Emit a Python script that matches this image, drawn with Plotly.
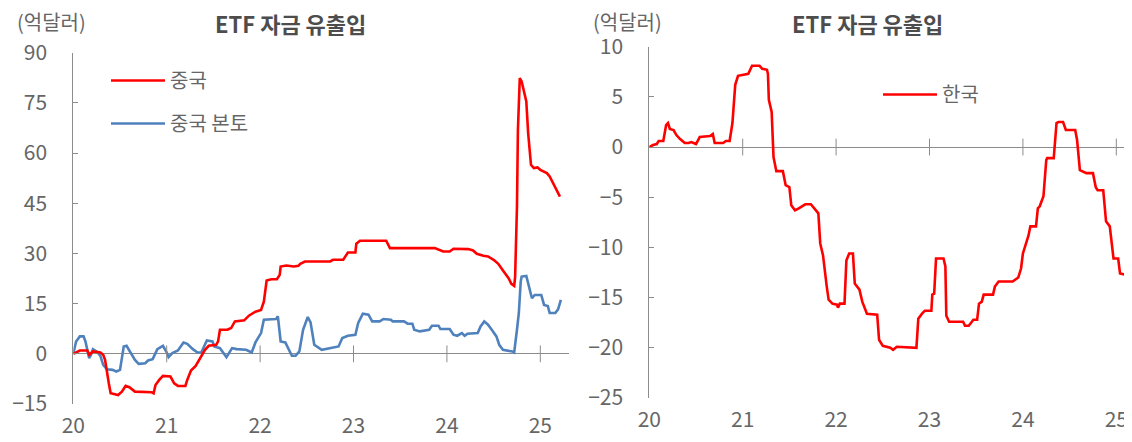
import plotly.graph_objects as go

# ---------------- data (decimal years, 억달러) ----------------
china_x = [2020.00, 2020.07, 2020.15, 2020.17, 2020.21, 2020.29, 2020.32, 2020.34, 2020.38, 2020.40,
           2020.48, 2020.52, 2020.56, 2020.60, 2020.66, 2020.84, 2020.86, 2020.88, 2020.92, 2020.96,
           2021.04, 2021.08, 2021.12, 2021.20, 2021.22, 2021.26, 2021.31, 2021.37, 2021.41, 2021.45,
           2021.53, 2021.55, 2021.57, 2021.65, 2021.69, 2021.73, 2021.83, 2021.88, 2021.95, 2022.01,
           2022.04, 2022.07, 2022.12, 2022.18, 2022.21, 2022.22, 2022.28, 2022.36, 2022.41, 2022.43,
           2022.48, 2022.75, 2022.78, 2022.89, 2022.93, 2022.94, 2023.02, 2023.03, 2023.07, 2023.35,
           2023.39, 2023.87, 2023.96, 2024.03, 2024.07, 2024.23, 2024.28, 2024.32, 2024.39, 2024.44,
           2024.50, 2024.55, 2024.60, 2024.66, 2024.69, 2024.72, 2024.73, 2024.75, 2024.76, 2024.78,
           2024.80, 2024.85, 2024.87, 2024.90, 2024.93, 2024.97, 2025.00, 2025.07, 2025.10, 2025.14,
           2025.17, 2025.21]
china_y = [0.0, 1.0, 1.0, -0.3, 0.7, 0.4, -0.3, -1.8, -8.8, -11.8,
           -12.3, -11.3, -9.6, -10.0, -11.3, -11.5, -11.8, -9.3, -7.8, -6.6,
           -6.8, -8.8, -9.6, -9.6, -7.8, -5.0, -3.6, -0.6, 1.2, 2.4,
           2.7, 3.7, 7.2, 7.2, 7.7, 9.7, 10.0, 11.4, 12.6, 13.1,
           15.6, 21.9, 22.3, 22.3, 23.6, 26.1, 26.4, 26.1, 26.3, 26.9,
           27.6, 27.6, 28.1, 28.1, 29.6, 30.3, 30.3, 32.9, 33.8, 33.8,
           31.6, 31.6, 30.6, 30.6, 31.4, 31.3, 30.9, 29.9, 29.3, 29.1,
           28.1, 26.9, 24.9, 22.6, 20.9, 20.3, 22.9, 44.0, 66.9, 82.4,
           81.4, 75.4, 65.9, 56.5, 55.5, 55.7, 55.0, 54.0, 53.0, 50.8,
           48.8, 47.0]

mainland_x = [2020.00, 2020.03, 2020.07, 2020.11, 2020.13, 2020.17, 2020.19, 2020.21, 2020.25, 2020.29,
              2020.32, 2020.36, 2020.42, 2020.46, 2020.50, 2020.54, 2020.57, 2020.61, 2020.66, 2020.70,
              2020.77, 2020.80, 2020.85, 2020.90, 2020.96, 2021.00, 2021.02, 2021.06, 2021.12, 2021.18,
              2021.22, 2021.28, 2021.33, 2021.37, 2021.43, 2021.49, 2021.51, 2021.57, 2021.64, 2021.70,
              2021.75, 2021.85, 2021.91, 2021.95, 2022.01, 2022.04, 2022.17, 2022.19, 2022.22, 2022.27,
              2022.30, 2022.34, 2022.38, 2022.42, 2022.46, 2022.51, 2022.54, 2022.58, 2022.66, 2022.74,
              2022.84, 2022.88, 2022.94, 2023.02, 2023.05, 2023.10, 2023.16, 2023.20, 2023.28, 2023.32,
              2023.40, 2023.42, 2023.54, 2023.58, 2023.63, 2023.65, 2023.71, 2023.81, 2023.84, 2023.91,
              2023.93, 2024.03, 2024.07, 2024.11, 2024.16, 2024.19, 2024.22, 2024.33, 2024.36, 2024.40,
              2024.44, 2024.48, 2024.53, 2024.56, 2024.60, 2024.70, 2024.72, 2024.75, 2024.77, 2024.79,
              2024.80, 2024.85, 2024.89, 2024.91, 2024.94, 2025.01, 2025.04, 2025.08, 2025.10, 2025.16,
              2025.19, 2025.22]
mainland_y = [0.0, 3.7, 5.2, 5.2, 3.7, -1.3, -0.3, 1.4, 0.7, -0.6,
              -3.3, -4.6, -4.8, -5.3, -4.8, 2.2, 2.4, 0.7, -1.8, -3.0,
              -2.8, -2.0, -1.6, 1.4, 2.4, 0.4, -1.0, 0.2, 1.0, 3.4,
              3.0, 1.4, 0.4, 0.4, 4.0, 3.7, 2.2, 1.7, -1.0, 1.7,
              1.4, 1.2, 0.4, 3.4, 6.2, 10.2, 10.4, 11.2, 3.7, 3.4,
              1.7, -0.6, -0.6, 0.7, 7.2, 11.0, 9.4, 2.7, 1.2, 1.7,
              2.2, 4.7, 5.4, 5.7, 9.2, 12.0, 11.7, 9.7, 9.7, 10.4,
              10.2, 9.7, 9.7, 9.0, 9.0, 7.2, 6.7, 7.2, 8.4, 8.4,
              7.4, 7.4, 5.7, 5.4, 6.2, 5.4, 6.0, 6.2, 8.2, 9.7,
              8.7, 7.2, 5.2, 2.7, 1.2, 0.7, 0.4, 7.2, 12.2, 21.6,
              23.1, 23.3, 18.6, 16.6, 17.6, 17.6, 14.6, 14.3, 12.2, 12.2,
              13.3, 16.1]

korea_x = [2020.00, 2020.04, 2020.08, 2020.10, 2020.15, 2020.18, 2020.20, 2020.22, 2020.26, 2020.29,
           2020.33, 2020.38, 2020.42, 2020.45, 2020.50, 2020.54, 2020.65, 2020.68, 2020.70, 2020.79,
           2020.82, 2020.86, 2020.89, 2020.92, 2020.95, 2021.02, 2021.06, 2021.10, 2021.18, 2021.21,
           2021.26, 2021.27, 2021.28, 2021.31, 2021.33, 2021.36, 2021.43, 2021.46, 2021.50, 2021.52,
           2021.56, 2021.60, 2021.63, 2021.67, 2021.73, 2021.77, 2021.81, 2021.83, 2021.86, 2021.90,
           2021.92, 2021.96, 2022.01, 2022.02, 2022.04, 2022.09, 2022.11, 2022.14, 2022.18, 2022.20,
           2022.25, 2022.28, 2022.33, 2022.44, 2022.46, 2022.50, 2022.58, 2022.61, 2022.65, 2022.86,
           2022.88, 2022.92, 2022.95, 2023.02, 2023.03, 2023.05, 2023.07, 2023.15, 2023.17, 2023.18,
           2023.21, 2023.36, 2023.38, 2023.42, 2023.47, 2023.51, 2023.53, 2023.56, 2023.58, 2023.68,
           2023.70, 2023.74, 2023.89, 2023.95, 2023.98, 2024.00, 2024.04, 2024.06, 2024.08, 2024.14,
           2024.16, 2024.18, 2024.22, 2024.25, 2024.26, 2024.33, 2024.36, 2024.38, 2024.43, 2024.46,
           2024.56, 2024.58, 2024.61, 2024.65, 2024.68, 2024.75, 2024.78, 2024.80, 2024.86, 2024.89,
           2024.93, 2024.97, 2025.02, 2025.04, 2025.09, 2025.12, 2025.17]
korea_y = [0.0, 0.2, 0.3, 0.6, 0.6, 2.2, 2.4, 1.8, 1.7, 1.2,
           0.8, 0.4, 0.4, 0.5, 0.3, 1.0, 1.1, 1.3, 0.4, 0.4,
           0.6, 0.6, 2.4, 6.2, 7.1, 7.2, 7.3, 8.1, 8.1, 7.8,
           7.7, 7.3, 4.7, 3.5, -1.0, -2.4, -2.4, -3.8, -4.0, -5.8,
           -6.3, -6.1, -5.9, -5.7, -5.7, -6.2, -6.6, -9.6, -10.8, -13.9,
           -15.2, -15.6, -15.7, -16.0, -15.6, -15.6, -11.3, -10.6, -10.6, -13.6,
           -14.2, -15.4, -16.6, -16.7, -19.2, -19.8, -20.0, -20.2, -19.9, -20.0,
           -17.1, -16.6, -16.3, -16.3, -14.7, -14.6, -11.1, -11.1, -11.9, -16.8,
           -17.4, -17.4, -17.8, -17.8, -17.2, -17.2, -15.6, -15.4, -14.7, -14.7,
           -13.9, -13.4, -13.4, -13.0, -12.1, -10.6, -9.4, -8.8, -7.9, -7.9,
           -6.1, -5.9, -4.9, -1.3, -1.1, -1.1, 2.4, 2.5, 2.5, 1.7,
           1.7, 0.7, -2.3, -2.5, -2.6, -2.6, -4.0, -4.3, -4.3, -7.4,
           -7.9, -11.1, -11.1, -12.6, -12.7, -13.1, -13.3]

year_ticks = [2020, 2021, 2022, 2023, 2024, 2025]
year_labels = ["20", "21", "22", "23", "24", "25"]
left_yticks = [-15, 0, 15, 30, 45, 60, 75, 90]
right_yticks = [-25, -20, -15, -10, -5, 0, 5, 10]

# ---------------- styles / layout helpers ----------------
FONT = "Noto Sans CJK KR"
AXIS_GRAY = "#8c8c8c"
TEXT_GRAY = "#666666"
TITLE_GRAY = "#4d4d4d"
RED = "#ff0000"
BLUE = "#4f81bd"
OFF = 8                      # page body margin of the html page
FW, FH = 1132 - OFF, 442 - OFF


def px(x):                   # window pixel -> paper x
    return (x - OFF) / FW


def py(y):                   # window pixel -> paper y
    return 1 - (y - OFF) / FH


fig = go.Figure()

fig.add_trace(go.Scatter(x=mainland_x, y=mainland_y, mode="lines", name="중국 본토",
                         line=dict(color=BLUE, width=2.6), xaxis="x", yaxis="y",
                         legend="legend", legendgroup="b", legendrank=2, hoverinfo="skip"))
fig.add_trace(go.Scatter(x=china_x, y=china_y, mode="lines", name="중국",
                         line=dict(color=RED, width=2.6), xaxis="x", yaxis="y",
                         legend="legend", legendgroup="a", legendrank=1, hoverinfo="skip"))
fig.add_trace(go.Scatter(x=korea_x, y=korea_y, mode="lines", name="한국",
                         line=dict(color=RED, width=2.6), xaxis="x2", yaxis="y2",
                         legend="legend2", hoverinfo="skip"))

# tick marks crossing the zero line
for xa, ya in (("x", "y"), ("x2", "y2")):
    fig.add_trace(go.Scatter(x=year_ticks[1:], y=[0] * (len(year_ticks) - 1), mode="markers",
                             marker=dict(symbol="line-ns-open", size=12, color=AXIS_GRAY,
                                         line=dict(color=AXIS_GRAY, width=1)),
                             xaxis=xa, yaxis=ya, showlegend=False, hoverinfo="skip"))

xcommon = dict(tickvals=year_ticks, ticktext=year_labels, showline=False, showgrid=False,
               zeroline=False, ticks="", tickfont=dict(family=FONT, size=21, color=TEXT_GRAY),
               ticklabelstandoff=7)
ycommon = dict(showline=True, linecolor=AXIS_GRAY, linewidth=1, showgrid=False,
               zeroline=True, zerolinecolor=AXIS_GRAY, zerolinewidth=1,
               ticks="inside", ticklen=5, tickcolor=AXIS_GRAY, tickwidth=1,
               tickfont=dict(family=FONT, size=21, color=TEXT_GRAY), ticklabelstandoff=21)

fig.update_layout(
    width=FW, height=FH, template="none",
    paper_bgcolor="white", plot_bgcolor="rgba(0,0,0,0)",
    margin=dict(l=0, r=0, t=0, b=0),
    font=dict(family=FONT, color=TEXT_GRAY),
    xaxis=dict(domain=[px(73.3), px(569)], range=[2020, 2025.307], anchor="y", **xcommon),
    yaxis=dict(domain=[py(404), py(52.7)], range=[-15, 90], tickvals=left_yticks,
               anchor="x", **ycommon),
    xaxis2=dict(domain=[px(649.3), 1.0], range=[2020, 2025.168], anchor="y2", **xcommon),
    yaxis2=dict(domain=[py(398), py(46.7)], range=[-25, 10], tickvals=right_yticks,
                anchor="x2", **ycommon),
    legend=dict(x=px(106), y=py(61), xanchor="left", yanchor="top", itemwidth=54,
                bgcolor="rgba(0,0,0,0)", borderwidth=0, tracegroupgap=14,
                font=dict(family=FONT, size=20, color=TEXT_GRAY)),
    legend2=dict(x=px(878), y=py(75), xanchor="left", yanchor="top", itemwidth=54,
                 bgcolor="rgba(0,0,0,0)", borderwidth=0,
                 font=dict(family=FONT, size=20, color=TEXT_GRAY)),
    annotations=[
        dict(text="(억달러)", x=px(51), y=py(22), xref="paper", yref="paper",
             showarrow=False, xanchor="center", yanchor="middle",
             font=dict(family=FONT, size=20, color=TEXT_GRAY)),
        dict(text="<b>ETF 자금 유출입</b>", x=px(290.5), y=py(23.5), xref="paper", yref="paper",
             showarrow=False, xanchor="center", yanchor="middle",
             font=dict(family=FONT, size=22, color=TITLE_GRAY)),
        dict(text="(억달러)", x=px(627), y=py(22), xref="paper", yref="paper",
             showarrow=False, xanchor="center", yanchor="middle",
             font=dict(family=FONT, size=20, color=TEXT_GRAY)),
        dict(text="<b>ETF 자금 유출입</b>", x=px(867), y=py(23.5), xref="paper", yref="paper",
             showarrow=False, xanchor="center", yanchor="middle",
             font=dict(family=FONT, size=22, color=TITLE_GRAY)),
    ],
)

fig.write_html("out.html")
